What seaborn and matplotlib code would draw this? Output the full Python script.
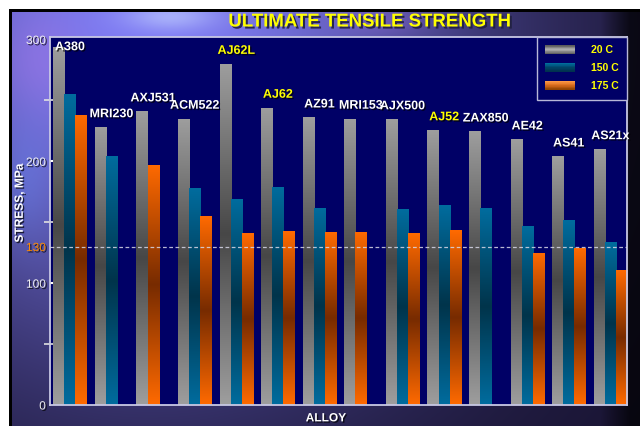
import numpy as np
import pandas as pd
import matplotlib
matplotlib.use("Agg")
import matplotlib.pyplot as plt
import matplotlib.patheffects as pe
import seaborn as sns
from matplotlib.colors import LinearSegmentedColormap, to_rgb
from matplotlib.patches import Rectangle
from matplotlib.legend_handler import HandlerBase

# ---- data: ultimate tensile strength (MPa) of magnesium alloys ----
alloys = ["A380", "MRI230", "AXJ531", "ACM522", "AJ62L", "AJ62", "AZ91",
          "MRI153", "AJX500", "AJ52", "ZAX850", "AE42", "AS41", "AS21x"]
temps = ["20 C", "150 C", "175 C"]
uts_20c = [294, 228, 241, 235, 280, 244, 236, 235, 234.5, 225.5, 224.5, 218, 204, 210]
uts_150c = [255, 204, np.nan, 178, 169, 179, 162, np.nan, 160.5, 164, 161.5, 146.5, 151.5, 133.5]
uts_175c = [238, np.nan, 197, 155, 141, 142.5, 142, 142, 141, 143.5, np.nan, 125, 128.5, 110.5]
highlighted = ["AJ62L", "AJ62", "AJ52"]
reference_level = 130

df = pd.DataFrame({
    "alloy": np.repeat(alloys, 3),
    "temp": temps * len(alloys),
    "uts": np.ravel(np.column_stack([uts_20c, uts_150c, uts_175c])),
}).dropna()

NAVY = "#000066"
FONT = "Liberation Sans"
plt.rcParams["font.family"] = [FONT, "DejaVu Sans"]

bar_cmaps = {
    "20 C": ["#9e9e9e", "#474747", "#9e9e9e"],
    "150 C": ["#006c9e", "#00344b", "#006c9e"],
    "175 C": ["#ff6a00", "#772b00", "#ff6a00"],
}
legend_cmaps = {
    "20 C": ["#555555", "#b4b4b4", "#5c5c5c"],
    "150 C": ["#0070a0", "#004468", "#00304c"],
    "175 C": ["#ff9a48", "#d86a1c", "#8a4000"],
}

# ---- slide background ----
H, W = 426, 640
yy, xx = np.mgrid[0:H, 0:W].astype(float)


def blob(cx, cy, sx, sy):
    return np.exp(-(((xx - cx) / sx) ** 2 + ((yy - cy) / sy) ** 2))[..., None]


base = np.array(to_rgb("#17122f"))
bg = np.ones((H, W, 3)) * base
lav = np.array(to_rgb("#7f7cf4"))
bg = bg + (lav - base) * blob(150, 30, 330, 340)
bg = bg + (np.array(to_rgb("#c8d8ff")) - bg) * 0.55 * blob(170, 16, 45, 14)
bg = bg + (np.array(to_rgb("#b078e8")) - bg) * 0.35 * blob(40, 60, 40, 50)
bg = bg + (np.array(to_rgb("#6a90ff")) - bg) * 0.3 * blob(25, 180, 25, 60)
bg = bg + (np.array(to_rgb("#a070e0")) - bg) * 0.3 * blob(380, 20, 50, 15)
fade = np.clip((xx - 600) / 30, 0, 1)[..., None]
bg = bg * (1 - 0.7 * fade)
bg = np.clip(bg, 0, 1)
bg[:9, :] = 1
bg[:, :9] = 1
bg[9:12, 9:] = 0
bg[9:, 9:12] = 0

fig = plt.figure(figsize=(6.4, 4.26), dpi=100)
bg_ax = fig.add_axes([0, 0, 1, 1], zorder=-10)
bg_ax.imshow(bg, aspect="auto", interpolation="bilinear")
bg_ax.axis("off")

ax = fig.add_axes([50 / 640, 1 - 405 / 426, 577 / 640, 368 / 426])
ax.set_facecolor(NAVY)

sns.barplot(data=df, x="alloy", y="uts", hue="temp", order=alloys,
            hue_order=temps, palette=[c[1] for c in bar_cmaps.values()],
            saturation=1, width=0.8, errorbar=None, legend=False, ax=ax)

XLIM = (-0.48, 13.4)
YLIM = (0, 302)

# close up the gap where a 150 C value is missing, then shade every bar
missing_150 = {i for i, v in enumerate(uts_150c) if np.isnan(v)}
grad = np.linspace(0, 1, 256).reshape(-1, 1)
for k, cont in enumerate(ax.containers):
    cmap = LinearSegmentedColormap.from_list(temps[k], bar_cmaps[temps[k]])
    for bar in cont:
        gi = int(round(bar.get_x() + bar.get_width() / 2))
        if temps[k] == "175 C" and gi in missing_150:
            bar.set_x(bar.get_x() - bar.get_width())
        x0, w, h = bar.get_x(), bar.get_width(), bar.get_height()
        bar.set_facecolor("none")
        bar.set_linewidth(0)
        im = ax.imshow(grad, extent=[x0, x0 + w, 0, h], cmap=cmap,
                       aspect="auto", interpolation="bicubic", zorder=2)
        im.set_clip_path(bar)

ax.set_xlim(*XLIM)
ax.set_ylim(*YLIM)

# reference level
ax.axhline(reference_level, color="#d8d8e8", lw=0.9, ls=(0, (3, 2)), alpha=0.85, zorder=3)

# alloy labels above the 20 C bars
shadow = [pe.withSimplePatchShadow(offset=(1, -1), shadow_rgbFace="black", alpha=0.7)]
for i, (name, v) in enumerate(zip(alloys, uts_20c)):
    ax.annotate(name, (i, min(v, 283)), xytext=(0, 5), textcoords="offset points",
                ha="center", va="bottom", fontsize=9, fontweight="bold",
                color="#ffff00" if name in highlighted else "white",
                path_effects=shadow, zorder=5)

# axes styling
for s in ax.spines.values():
    s.set_color("#c8c8e4")
    s.set_linewidth(1.3)
ax.set_xticks([])
ax.set_yticks([0, 100, reference_level, 200, 300])
ax.set_yticklabels(["0", "100", str(reference_level), "200", "300"])
ax.set_yticks([50, 150, 250], minor=True)
ax.tick_params(axis="y", which="major", direction="in", length=7, width=1.5,
               color="white", labelsize=8.6, labelcolor="#f0f0f0", pad=3)
ax.tick_params(axis="y", which="minor", direction="inout", length=8, width=1.2,
               color="#e0e0e0")
for t in ax.yaxis.get_major_ticks():
    t.label1.set_path_effects(shadow)
ref_tick = ax.yaxis.get_major_ticks()[2]
ref_tick.tick1line.set_visible(False)
ref_tick.label1.set_color("#ff8a00")
ax.yaxis.get_major_ticks()[0].tick1line.set_visible(False)
ax.yaxis.get_major_ticks()[4].tick1line.set_visible(False)

ax.set_ylabel("STRESS, MPa", color="white", fontsize=8.6, fontweight="bold",
              path_effects=shadow)
ax.yaxis.set_label_coords(-0.042, 0.548)
ax.set_xlabel("ALLOY", color="white", fontsize=8.6, fontweight="bold",
              path_effects=shadow)
ax.xaxis.set_label_coords(0.478, -0.02)


# gradient legend swatches
class GradientSwatch(HandlerBase):
    def __init__(self, colors):
        super().__init__()
        self.cmap = LinearSegmentedColormap.from_list("sw", colors)

    def create_artists(self, legend, orig_handle, xdescent, ydescent,
                       width, height, fontsize, trans):
        n = 14
        arts = []
        for j in range(n):
            y = -ydescent + height * (1 - (j + 1) / n)
            arts.append(Rectangle((-xdescent, y), width, height / n + 0.2,
                                  facecolor=self.cmap((j + 0.5) / n),
                                  edgecolor="none", transform=trans))
        return arts


handles = [Rectangle((0, 0), 1, 1) for _ in temps]
leg = ax.legend(handles, temps,
                handler_map={h: GradientSwatch(legend_cmaps[t]) for h, t in zip(handles, temps)},
                loc="upper right", bbox_to_anchor=(1.0, 1.0), borderaxespad=0,
                frameon=True, fancybox=False, facecolor=NAVY, edgecolor="#b8b8d8",
                framealpha=1, prop={"family": FONT, "weight": "bold", "size": 7.6},
                handlelength=2.8, handleheight=0.85, handletextpad=1.5,
                labelspacing=0.75, borderpad=0.8)
leg.get_frame().set_linewidth(1.0)
for txt in leg.get_texts():
    txt.set_color("#ffff00")
leg.set_zorder(6)

fig.text(370 / 640, 1 - 22 / 426, "ULTIMATE TENSILE STRENGTH", ha="center",
         va="center", fontsize=13.4, fontweight="bold", color="#ffff00",
         path_effects=[pe.withSimplePatchShadow(offset=(1.5, -1.5),
                                                shadow_rgbFace="#202040", alpha=0.9)])

fig.savefig("out.png", dpi=100)
